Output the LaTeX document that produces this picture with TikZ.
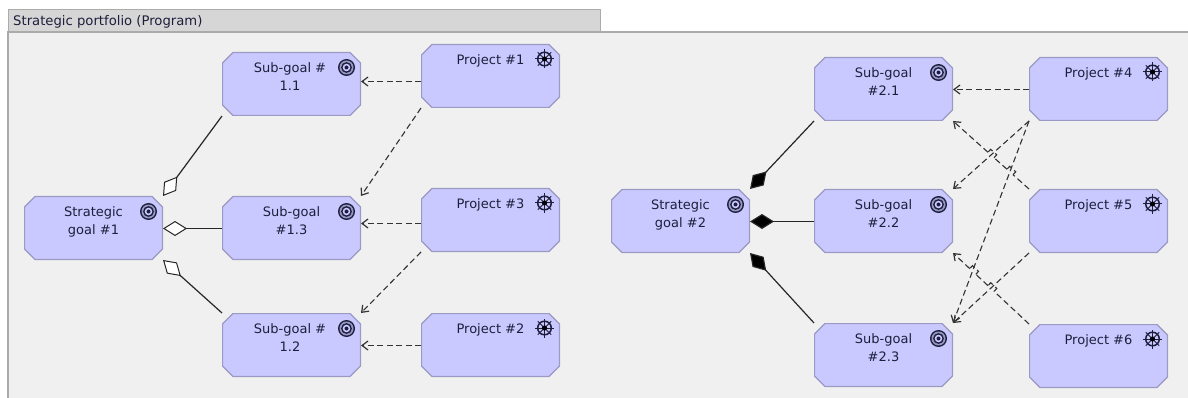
\documentclass[tikz,border=0pt]{standalone}
\usepackage{fontspec}
\setmainfont{DejaVu Sans}
\usetikzlibrary{arrows.meta,calc}
\definecolor{boxfill}{HTML}{C9C9FF}
\definecolor{boxline}{HTML}{9A9AC4}
\definecolor{panelfill}{HTML}{F0F0F0}
\definecolor{tabfill}{HTML}{D6D6D6}
\definecolor{frameline}{HTML}{ABABAB}
\definecolor{inkcol}{HTML}{1E1E3C}
\newcommand{\boxtext}[1]{\parbox[c][42pt][t]{120pt}{\centering\fontsize{13}{18}\selectfont\vspace*{0pt}#1}}
% a dashed connector from #1 to #2 that hops over two crossings, at fractions #3 and #4
\newcommand{\hopdep}[4]{%
  \draw[dep] (#1) -- ($(#1)!#3-0.04!(#2)$)
    ($(#1)!#3-0.04!(#2)$) -- ($(#1)!#3-0.04!(#2)!4pt!-90:(#2)$) -- ($(#1)!#3+0.04!(#2)!4pt!90:(#1)$) -- ($(#1)!#3+0.04!(#2)$)
    ($(#1)!#3+0.04!(#2)$) -- ($(#1)!#4-0.04!(#2)$)
    ($(#1)!#4-0.04!(#2)$) -- ($(#1)!#4-0.04!(#2)!4pt!-90:(#2)$) -- ($(#1)!#4+0.04!(#2)!4pt!90:(#1)$) -- ($(#1)!#4+0.04!(#2)$)
    ($(#1)!#4+0.04!(#2)$) -- (#2);}
\tikzset{
  x=1pt,y=-1pt,
  element/.style={rectangle,
    minimum width=139pt,minimum height=64pt,inner sep=0pt,outer sep=0pt,text=inkcol,
    path picture={
      \draw[fill=boxfill,draw=boxline,line width=1.2pt]
        ([xshift=11pt,yshift=-.5pt]path picture bounding box.north west)
        -- ([xshift=-11pt,yshift=-.5pt]path picture bounding box.north east)
        -- ([xshift=-.5pt,yshift=-11pt]path picture bounding box.north east)
        -- ([xshift=-.5pt,yshift=11pt]path picture bounding box.south east)
        -- ([xshift=-11pt,yshift=.5pt]path picture bounding box.south east)
        -- ([xshift=11pt,yshift=.5pt]path picture bounding box.south west)
        -- ([xshift=.5pt,yshift=11pt]path picture bounding box.south west)
        -- ([xshift=.5pt,yshift=-11pt]path picture bounding box.north west)
        -- cycle;
    }},
  assoc/.style={line width=1.2pt,black!85},
  whole/.style={assoc,{Diamond[open,fill=white,length=24pt,width=15pt,line width=1pt]}-},
  wholeblack/.style={assoc,{Diamond[fill=black,length=24pt,width=15pt]}-},
  dep/.style={line width=1.1pt,black!80,dash pattern=on 6pt off 3.5pt,
    -{Straight Barb[length=6pt,width=9pt,line width=1.2pt]}},
  goalicon/.pic={
    \fill[inkcol] (0,0) circle (8.5);
    \fill[boxfill!70!inkcol] (0,0) circle (7);
    \fill[inkcol] (0,0) circle (5.4);
    \fill[boxfill] (0,0) circle (3.8);
    \fill[inkcol] (0,0) circle (2);
  },
  wheelicon/.pic={
    \draw[inkcol,line width=1.5pt] (0,0) circle (6.8);
    \foreach \a in {0,45,...,315}
      \draw[inkcol,line width=1pt] (0,0) -- (\a:9.5);
    \fill[black] (0,0) circle (2.6);
  },
}
\begin{document}
\begin{tikzpicture}
\useasboundingbox (0,0) rectangle (1188,398);
\fill[white] (0,0) rectangle (1188,398);
\fill[panelfill] (8,32) rectangle (1188,398);
\draw[frameline,line width=1.5pt] (8,398) -- (8,32) -- (1188,32);
\node[draw=frameline,fill=tabfill,line width=1pt,minimum width=592pt,minimum height=22pt,
  inner sep=0pt,outer sep=0pt,anchor=north west] (tab) at (8,10) {};
\node[anchor=west,inner sep=0pt,text=inkcol,font=\fontsize{13.2}{15}\selectfont] (tabtext) at (13,21.5) {Strategic portfolio (Program)};

\node[element] (g1) at (93.5,228) {\boxtext{Strategic\\goal \#1}};
\node[element] (s11) at (291.5,84) {\boxtext{\hspace*{-3pt}Sub-goal \#\\\hspace*{-3pt}1.1}};
\node[element] (s13) at (291.5,228) {\boxtext{Sub-goal\\\#1.3}};
\node[element] (s12) at (291.5,345) {\boxtext{\hspace*{-3pt}Sub-goal \#\\\hspace*{-3pt}1.2}};
\node[element] (p1) at (490.5,76) {\boxtext{Project \#1}};
\node[element] (p3) at (490.5,220) {\boxtext{Project \#3}};
\node[element] (p2) at (490.5,345) {\boxtext{Project \#2}};

\node[element] (g2) at (680.5,221) {\boxtext{Strategic\\goal \#2}};
\node[element] (s21) at (883.5,89) {\boxtext{Sub-goal\\\#2.1}};
\node[element] (s22) at (883.5,221) {\boxtext{Sub-goal\\\#2.2}};
\node[element] (s23) at (883.5,355) {\boxtext{Sub-goal\\\#2.3}};
\node[element] (p4) at (1098.5,89) {\boxtext{Project \#4}};
\node[element] (p5) at (1098.5,221) {\boxtext{Project \#5}};
\node[element] (p6) at (1098.5,356) {\boxtext{Project \#6}};

\foreach \n in {g1,s11,s13,s12,g2,s21,s22,s23}
  \pic at ([xshift=-14.5pt,yshift=-15.5pt]\n.north east) {goalicon};
\foreach \n in {p1,p3,p2,p4,p5,p6}
  \pic at ([xshift=-15.5pt,yshift=-15pt]\n.north east) {wheelicon};

\draw[whole] (g1.north east) -- (s11.south west);
\draw[whole] ([yshift=-.5pt]g1.east) -- ([yshift=-.5pt]s13.west);
\draw[whole] (g1.south east) -- (s12.north west);
\draw[wholeblack] (g2.north east) -- (s21.south west);
\draw[wholeblack] ([yshift=-.5pt]g2.east) -- ([yshift=-.5pt]s22.west);
\draw[wholeblack] (g2.south east) -- (s23.north west);

\draw[dep] ([yshift=-5.5pt]p1.west) -- ([yshift=2.5pt]s11.east);
\draw[dep] (p1.south west) -- (s13.north east);
\draw[dep] ([yshift=-3.5pt]p3.west) -- ([yshift=4.5pt]s13.east);
\draw[dep] (p3.south west) -- (s12.north east);
\draw[dep] ([yshift=-.5pt]p2.west) -- ([yshift=-.5pt]s12.east);

\draw[dep] ([yshift=-.5pt]p4.west) -- ([yshift=-.5pt]s21.east);
\draw[dep] (p4.south west) -- (s22.north east);
\draw[dep] (p4.south west) -- (s23.north east);
\draw[dep] (p5.south west) -- (s23.north east);
\hopdep{p5.north west}{s21.south east}{0.25}{0.50}
\hopdep{p6.north west}{s22.south east}{0.50}{0.74}
\end{tikzpicture}
\end{document}
